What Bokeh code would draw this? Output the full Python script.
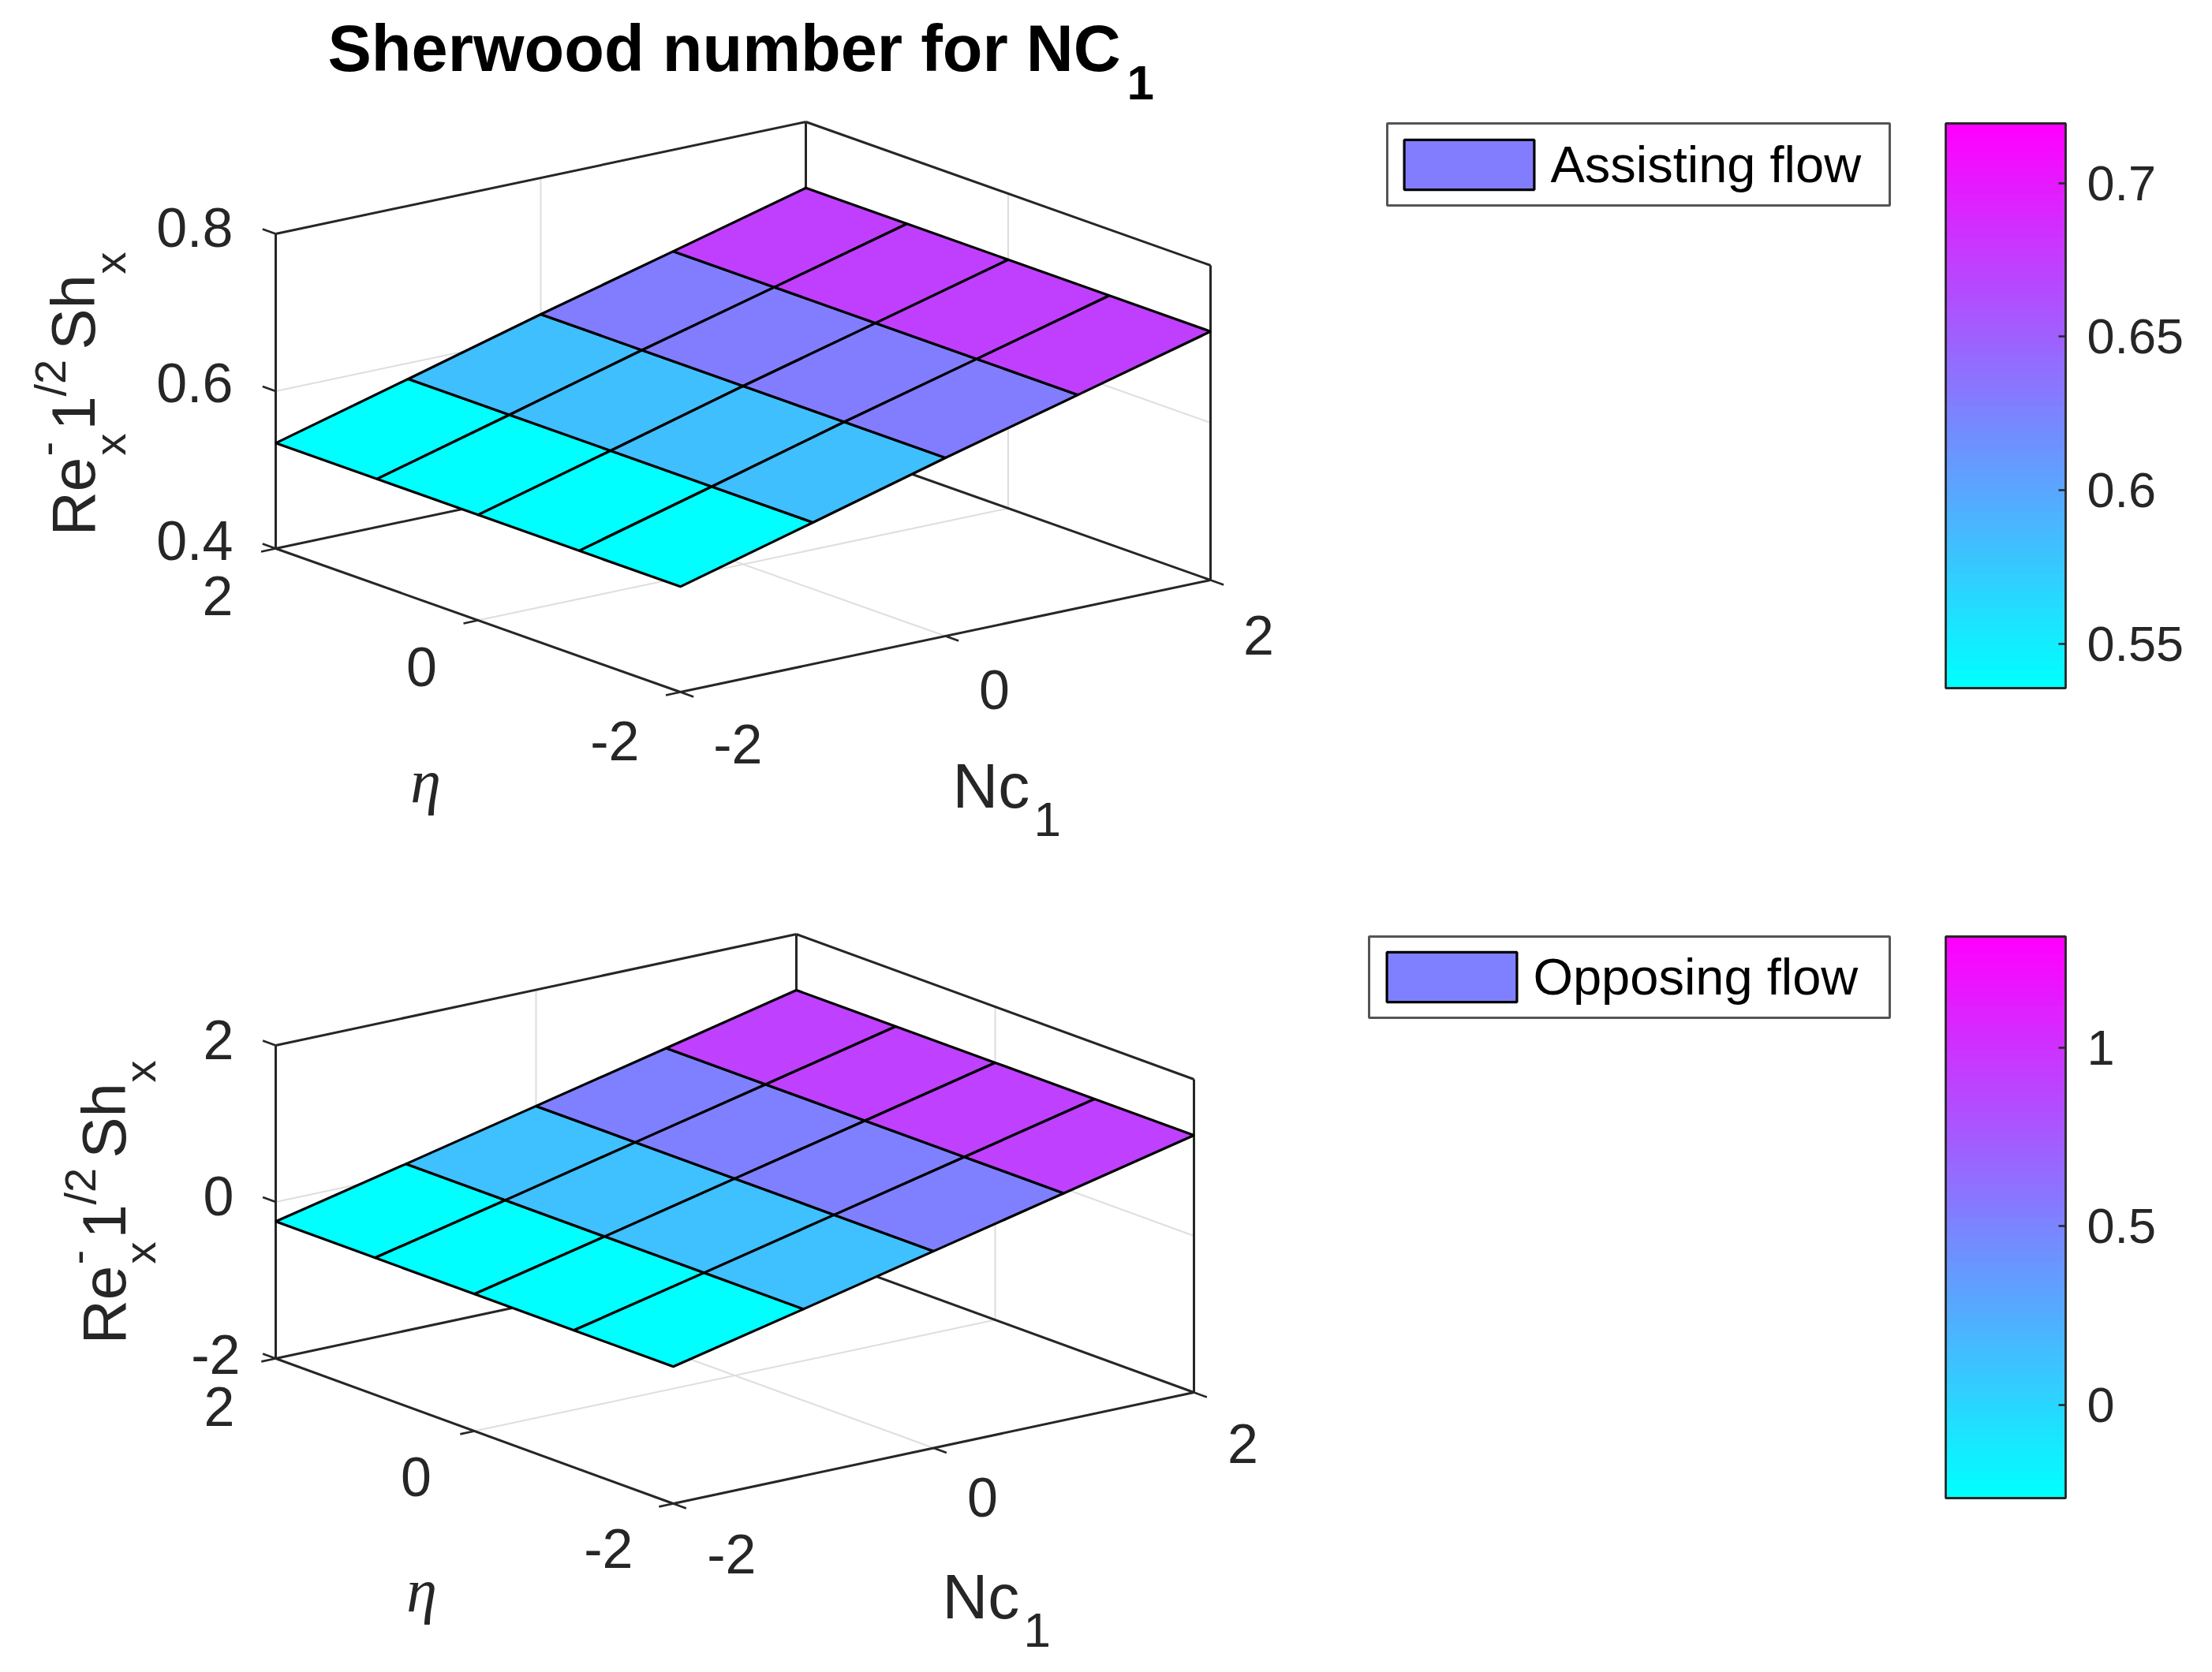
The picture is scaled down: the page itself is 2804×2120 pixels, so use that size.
import numpy as np
from bokeh.plotting import figure
from bokeh.models import Range1d, ColorBar, LinearColorMapper, FixedTicker, Legend, LegendItem
from bokeh.core.properties import value
from bokeh.embed import file_html
from bokeh.resources import INLINE

# ---------- data ----------
nc_values = [-2, -1, 0, 1, 2]
eta_values = [2, 1, 0, -1, -2]
axis_ticks = [-2, 0, 2]

z_assisting = [0.534, 0.580, 0.6266, 0.671, 0.716]   # by Nc, same for every eta
z_opposing = [-0.25, 0.13, 0.515, 0.90, 1.285]

z_ticks_assisting = [0.4, 0.6, 0.8]
z_ticks_opposing = [-2, 0, 2]

cbar_ticks_assisting = [0.55, 0.6, 0.65, 0.7]
cbar_labels_assisting = ["0.55", "0.6", "0.65", "0.7"]
cbar_range_assisting = (0.5355, 0.7195)
cbar_ticks_opposing = [0, 0.5, 1]
cbar_labels_opposing = ["0", "0.5", "1"]
cbar_range_opposing = (-0.26, 1.31)

legend_labels = ["Assisting flow", "Opposing flow"]
title_text = "Sherwood number for NC"

# ---------- layout ----------
W, H = 2788, 2104
TICK = "#262626"
GRID = "#dedede"
SANS = value("Liberation Sans")
ASC = 0.36   # distance from baseline to the middle of a capital, in em


def cool(t):
    return "#%02x%02x%02x" % (round(255 * t), round(255 * (1 - t)), 255)


palette = [cool(i / 63) for i in range(64)]

p = figure(width=W, height=H, x_range=Range1d(0, W), y_range=Range1d(H, 0),
           x_axis_location=None, y_axis_location=None, toolbar_location=None,
           output_backend="svg", min_border=0, outline_line_color=None,
           background_fill_color="white", border_fill_color="white")
p.grid.visible = False


def txt(x, y, s, size, align="left", font=SANS, color=TICK, angle=0.0, style="normal"):
    p.text(x=[x], y=[y], text=[s], text_font=font, text_font_size=f"{size}px",
           text_align=align, text_baseline="middle", text_color=color, angle=angle,
           text_font_style=style)


def base_txt(x, y, s, size, **kw):
    """Text given by its baseline position."""
    txt(x, y - ASC * size, s, size, **kw)


def rot_txt(x, y, s, size):
    """Rotated text given by its baseline position."""
    txt(x - ASC * size, y, s, size, angle=np.pi / 2)


def panel(cfg):
    ox, oy = cfg["origin"]
    (nx, ny), (ex, ey) = cfg["nc_vec"], cfg["eta_vec"]
    zpx, z0 = cfg["z_px"], cfg["z_ticks"][0]
    zlo, zmid, zhi = cfg["z_ticks"]

    def P(nc, eta, z):
        a, b = nc + 2, eta + 2
        return ox + a * nx + b * ex, oy + a * ny + b * ey - (z - z0) * zpx

    def seg(a, b, color, width):
        p1, p2 = P(*a), P(*b)
        p.line([p1[0], p2[0]], [p1[1], p2[1]], line_color=color, line_width=width)

    # light grid
    seg((0, -2, zlo), (0, 2, zlo), GRID, 2)
    seg((-2, 0, zlo), (2, 0, zlo), GRID, 2)
    seg((0, 2, zlo), (0, 2, zhi), GRID, 2)
    seg((2, 0, zlo), (2, 0, zhi), GRID, 2)
    seg((-2, 2, zmid), (2, 2, zmid), GRID, 2)
    seg((2, -2, zmid), (2, 2, zmid), GRID, 2)

    # box
    for a, b in [((-2, 2, zhi), (2, 2, zhi)), ((2, 2, zhi), (2, -2, zhi)),
                 ((-2, 2, zlo), (-2, 2, zhi)), ((2, -2, zlo), (2, -2, zhi)),
                 ((2, 2, zlo), (2, 2, zhi)), ((-2, 2, zlo), (2, 2, zlo)),
                 ((2, 2, zlo), (2, -2, zlo)), ((-2, 2, zlo), (-2, -2, zlo)),
                 ((-2, -2, zlo), (2, -2, zlo))]:
        seg(a, b, TICK, 3)

    # ticks
    for t in axis_ticks:
        seg((t, -2, zlo), (t, -2.13, zlo), TICK, 2.6)
        seg((-2, t, zlo), (-2.11, t, zlo), TICK, 2.6)
    for t in cfg["z_ticks"]:
        seg((-2, 2, t), (-2, 2.13, t), TICK, 2.6)

    # surface
    zs = cfg["z"]
    xs, ys, cols = [], [], []
    for i in range(len(nc_values) - 1):
        t = (zs[i] - min(zs)) / (max(zs) - min(zs))
        for j in range(len(eta_values) - 1):
            corners = [P(nc_values[i], eta_values[j], zs[i]),
                       P(nc_values[i + 1], eta_values[j], zs[i + 1]),
                       P(nc_values[i + 1], eta_values[j + 1], zs[i + 1]),
                       P(nc_values[i], eta_values[j + 1], zs[i])]
            xs.append([c[0] for c in corners])
            ys.append([c[1] for c in corners])
            cols.append(cool(t))
    surf = p.patches(xs, ys, fill_color=cols, line_color="black", line_width=3.2)

    # tick labels
    for x, y, s, al in cfg["labels"]:
        txt(x, y, s, 70, align=al)

    # axis titles
    dx, dy = cfg["nc_title"]
    base_txt(dx, dy, "Nc", 80)
    base_txt(dx + 103, dy + 36, "1", 62)
    ex_, ey_ = cfg["eta_title"]
    base_txt(ex_, ey_, "\u03b7", 78, align="center", font=value("Liberation Serif"), style="italic")

    # rotated z title
    lx, ly = cfg["zlabel_shift"]
    for x, y, s, size in [(121, 679, "Re", 78), (159, 577, "x", 56), (80, 578, "-", 56),
                          (121, 545, "1", 78), (83, 502, "/2", 56), (121, 443, "Sh", 78),
                          (159, 347, "x", 56)]:
        rot_txt(x + lx, y + ly, s, size)

    # legend: frame, then swatch and label
    l, tp, r, b = cfg["legend_box"]
    p.quad(left=[l], right=[r], top=[tp], bottom=[b], fill_color="white",
           line_color="#555555", line_width=3)
    sx, sy = cfg["legend_swatch"]
    gw, gh = 206, 79
    leg = Legend(items=[LegendItem(label=cfg["legend"], renderers=[surf], index=9)],
                 location=(sx - 0.1 * gw, H - (sy - 0.1 * gh) - gh), margin=0, padding=0,
                 glyph_width=gw, glyph_height=gh, label_standoff=0,
                 label_text_font="Liberation Sans", label_text_font_size="65px",
                 label_text_color="black", border_line_color=None,
                 background_fill_alpha=0.0)
    p.add_layout(leg, "center")

    # colour bar
    low, high = cfg["cbar_range"]
    top, bottom = cfg["cbar_y"]
    cb = ColorBar(color_mapper=LinearColorMapper(palette=palette, low=low, high=high),
                  ticker=FixedTicker(ticks=cfg["cbar_ticks"]),
                  major_label_overrides=dict(zip(cfg["cbar_ticks"], cfg["cbar_labels"])),
                  location=(2466, H - bottom), width=152, height=bottom - top,
                  margin=0, padding=0, major_tick_in=9, major_tick_out=0,
                  major_tick_line_color=TICK, major_tick_line_width=2.5, minor_tick_line_color=None,
                  bar_line_color=TICK, bar_line_width=2.8, border_line_color=None,
                  background_fill_alpha=0.0, label_standoff=27,
                  major_label_text_font="Liberation Sans", major_label_text_font_size="63px",
                  major_label_text_color=TICK)
    p.add_layout(cb, "center")


panel(dict(
    origin=(862, 877), nc_vec=(168, -35.5), eta_vec=(-128.25, -45.5), z_px=997.5,
    z_ticks=z_ticks_assisting, z=z_assisting,
    labels=[(295, 288, "0.8", "right"), (295, 485, "0.6", "right"), (295, 685, "0.4", "right"),
            (295, 755, "2", "right"), (534, 845, "0", "center"), (810, 939, "-2", "right"),
            (966, 943, "-2", "right"), (1260, 874, "0", "center"), (1595, 805, "2", "center")],
    nc_title=(1207, 1025), eta_title=(539, 1018), zlabel_shift=(0, 0),
    legend=legend_labels[0], legend_box=(1758, 156, 2395, 260), legend_swatch=(1780, 177),
    cbar_range=cbar_range_assisting, cbar_y=(156, 872),
    cbar_ticks=cbar_ticks_assisting, cbar_labels=cbar_labels_assisting))

panel(dict(
    origin=(853, 1906), nc_vec=(165, -35.25), eta_vec=(-126, -46), z_px=99.25,
    z_ticks=z_ticks_opposing, z=z_opposing,
    labels=[(296, 1318, "2", "right"), (296, 1516, "0", "right"), (304, 1717, "-2", "right"),
            (297, 1783, "2", "right"), (527, 1872, "0", "center"), (802, 1963, "-2", "right"),
            (958, 1970, "-2", "right"), (1245, 1898, "0", "center"), (1575, 1830, "2", "center")],
    nc_title=(1194, 2053), eta_title=(534, 2044), zlabel_shift=(38.5, 1025),
    legend=legend_labels[1], legend_box=(1735, 1187, 2395, 1290), legend_swatch=(1758, 1207),
    cbar_range=cbar_range_opposing, cbar_y=(1187, 1899),
    cbar_ticks=cbar_ticks_opposing, cbar_labels=cbar_labels_opposing))

# title
base_txt(415, 91, title_text, 83, color="black", style="bold")
base_txt(1428, 127, "1", 62, color="black", style="bold")

open("out.html", "w").write(file_html(p, INLINE))
